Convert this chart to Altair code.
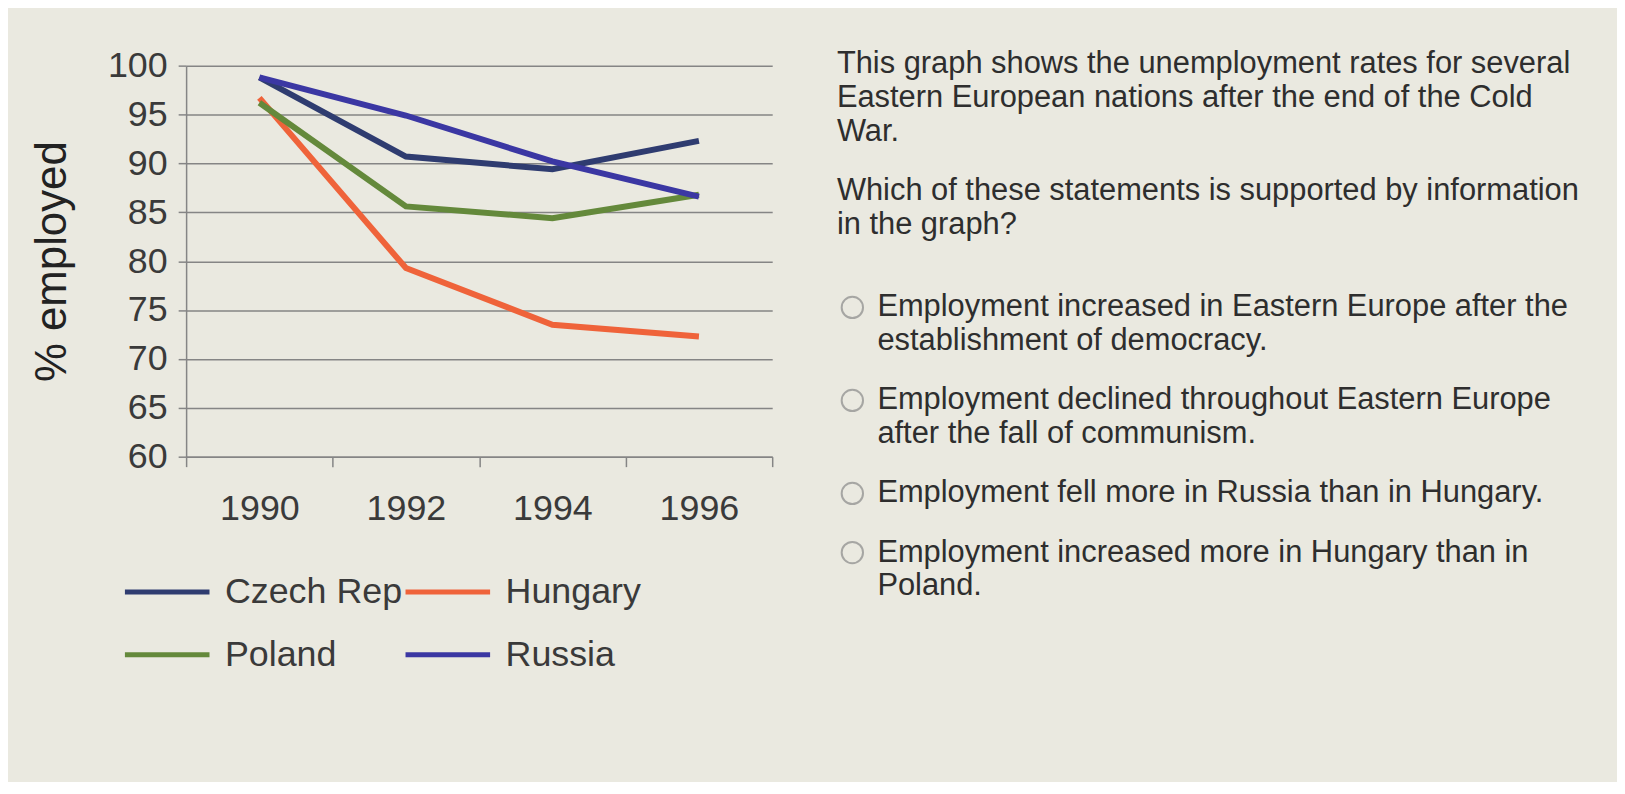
import altair as alt
import pandas as pd

# chart values
years = [1990, 1992, 1994, 1996]
czech = [98.8, 90.7, 89.4, 92.3]
hungary = [96.7, 79.3, 73.5, 72.3]
poland = [96.2, 85.6, 84.4, 86.8]
russia = [98.8, 94.9, 90.2, 86.6]

countries = ["Czech Rep", "Hungary", "Poland", "Russia"]
colors = ["#2f3c70", "#ef633a", "#64893b", "#3b37a3"]

intro = [
    "This graph shows the unemployment rates for several",
    "Eastern European nations after the end of the Cold",
    "War.",
]
question = [
    "Which of these statements is supported by information",
    "in the graph?",
]
options = [
    ["Employment increased in Eastern Europe after the", "establishment of democracy."],
    ["Employment declined throughout Eastern Europe", "after the fall of communism."],
    ["Employment fell more in Russia than in Hungary."],
    ["Employment increased more in Hungary than in", "Poland."],
]

FONT = "Liberation Sans"
BG = "#eae9e0"
GRID = "#858585"

series = {"Czech Rep": czech, "Hungary": hungary, "Poland": poland, "Russia": russia}
rows = []
for name, vals in series.items():
    for yr, v in zip(years, vals):
        rows.append({"year": yr, "pct": v, "country": name})
df = pd.DataFrame(rows)

# ticks sit between the years, like a category axis
odd_ticks = {"condition": {"test": "datum.value % 2 == 1", "value": 1}, "value": 0}

lines = alt.Chart(df).mark_line(strokeWidth=6).encode(
    x=alt.X(
        "year:Q",
        scale=alt.Scale(domain=[1989, 1997], nice=False, zero=False),
        axis=alt.Axis(
            title=None,
            values=list(range(1989, 1998)),
            labelExpr="datum.value % 2 == 0 ? '' + datum.value : ''",
            labelFontSize=36,
            labelFont=FONT,
            labelColor="#3a3a3a",
            labelPadding=25,
            labelOverlap=False,
            labelFlush=False,
            tickSize=10,
            tickColor=GRID,
            tickWidth=1.5,
            tickOpacity=odd_ticks,
            domainColor=GRID,
            domainWidth=1.5,
            grid=False,
        ),
    ),
    y=alt.Y(
        "pct:Q",
        scale=alt.Scale(domain=[60, 100], nice=False, zero=False),
        axis=alt.Axis(
            title="% employed",
            titleFontSize=44,
            titleFont=FONT,
            titleFontWeight="normal",
            titleColor="#222222",
            titlePadding=33,
            values=list(range(60, 101, 5)),
            labelFontSize=36,
            labelFont=FONT,
            labelColor="#3a3a3a",
            labelPadding=11,
            tickSize=8,
            tickColor=GRID,
            tickWidth=1.5,
            domainColor=GRID,
            domainWidth=1.5,
            gridColor=GRID,
            gridWidth=1.5,
        ),
    ),
    color=alt.Color(
        "country:N",
        scale=alt.Scale(domain=countries, range=colors),
        legend=alt.Legend(
            title=None,
            orient="none",
            direction="horizontal",
            legendX=-64,
            legendY=484,
            columns=2,
            symbolType="stroke",
            symbolSize=7225,
            symbolStrokeWidth=5,
            labelFontSize=36,
            labelFont=FONT,
            labelColor="#3a3a3a",
            labelOffset=13,
            labelLimit=400,
            columnPadding=-8,
            rowPadding=0,
        ),
    ),
).properties(width=589, height=393)

# question panel: one row per text line, gaps between blocks
text_rows = []
circle_rows = []
row = 0.0
for line in intro:
    text_rows.append({"text": line, "row": row, "indent": 0.0})
    row += 1
row += 0.75
for line in question:
    text_rows.append({"text": line, "row": row, "indent": 0.0})
    row += 1
row += 1.45
for opt in options:
    circle_rows.append({"row": row, "indent": 0.42})
    for line in opt:
        text_rows.append({"text": line, "row": row, "indent": 1.1})
        row += 1
    row += 0.75

xs = alt.Scale(domain=[0, 760 / 37], nice=False, zero=False)
ys = alt.Scale(domain=[0.05, 17], nice=False, zero=False, reverse=True)

words = alt.Chart(pd.DataFrame(text_rows)).mark_text(
    align="left", baseline="middle", fontSize=31, font=FONT, color="#2e2e2e"
).encode(
    x=alt.X("indent:Q", scale=xs, axis=None),
    y=alt.Y("row:Q", scale=ys, axis=None),
    text="text:N",
)

circles = alt.Chart(pd.DataFrame(circle_rows)).mark_point(
    shape="circle", filled=False, size=460, strokeWidth=2, color="#8a8a8a"
).encode(
    x=alt.X("indent:Q", scale=xs, axis=None),
    y=alt.Y("row:Q", scale=ys, axis=None),
)

panel = alt.layer(words, circles).properties(width=760, height=576)

chart = alt.hconcat(lines, panel, spacing=64).properties(
    background=BG,
    padding={"left": 22, "top": 38, "right": 24, "bottom": 108},
).configure_view(stroke=None)

chart.save("out.html", embed_options={"renderer": "svg", "actions": False})
